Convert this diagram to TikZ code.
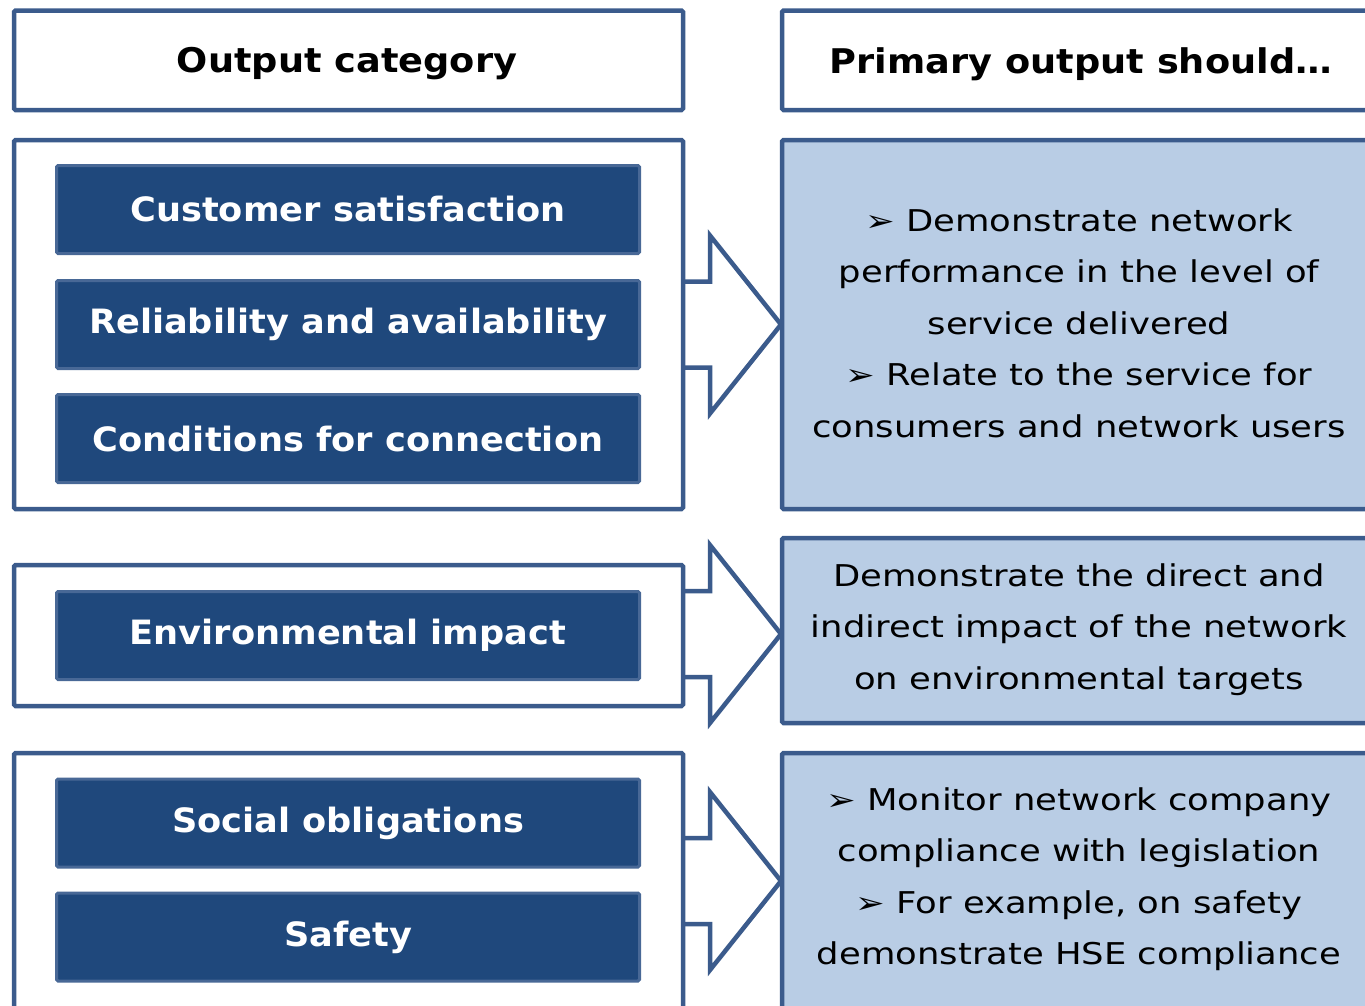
\documentclass[tikz,border=0pt]{standalone}
\usepackage{fontspec}
\setmainfont{DejaVu Sans}
\newfontfamily\wfont[FakeStretch=1.18]{DejaVu Sans}
\newfontfamily\hfont[FakeStretch=1.08]{DejaVu Sans}
\newfontfamily\cfont[FakeStretch=1.05]{DejaVu Sans}
\definecolor{edge}{RGB}{59,91,140}
\definecolor{darkfill}{RGB}{31,72,124}
\definecolor{darkedge}{RGB}{72,104,150}
\definecolor{lightfill}{RGB}{185,205,229}
\begin{document}
\begin{tikzpicture}[x=1pt,y=-1pt,
 frame/.style={draw=edge, line width=4.5pt, rounded corners=1.5pt, fill=white, inner sep=0pt, minimum width=669pt, outer sep=0pt},
 infobox/.style={frame, fill=lightfill, minimum width=598pt},
 catbox/.style={draw=darkedge, line width=3pt, fill=darkfill, rounded corners=1.5pt, minimum width=583pt, minimum height=88pt, inner sep=0pt, text=white, font=\cfont\fontsize{33.5}{36}\selectfont\bfseries},
 headtext/.style={font=\hfont\fontsize{34}{36}\selectfont\bfseries},
 bodytext/.style={font=\wfont\fontsize{30}{51.5}\selectfont, align=center},
 outarrow/.pic={\draw[edge, line width=4.5pt, line join=miter] (0,-43) -- (27,-43) -- (27,-89) -- (98,0) -- (27,89) -- (27,43) -- (0,43);}
]
\fill[white] (0,0) rectangle (1365,1005);
\useasboundingbox (0,0) rectangle (1365,1005);
\clip (0,0) rectangle (1365,1005);

% headers
\node[frame, minimum height=99.5pt] (hl) at (348.5,60.25) {};
\node[headtext] (hlt) at (347,64) {Output category};
\node[frame, fill=white, minimum width=598pt, minimum height=99.5pt] (hr) at (1081,60.25) {};
\node[headtext] (hrt) at (1081,64) {Primary output should\ldots};

% group 1
\node[frame, minimum height=369pt] (g1l) at (348.5,324.5) {};
\node[infobox, minimum height=369pt] (g1r) at (1081,324.5) {};
\node[bodytext] (g1t) at (1079,323) {➢ Demonstrate network\\performance in the level of\\service delivered\\➢ Relate to the service for\\consumers and network users};
\node[catbox] (d1) at (348,209.5) {Customer satisfaction};
\node[catbox] (d2) at (348,324.5) {Reliability and availability};
\node[catbox] (d3) at (348,438.5) {Conditions for connection};
\pic at (g1l.east) {outarrow};

% group 2
\node[frame, minimum height=141pt] (g2l) at (348.5,635.5) {};
\node[infobox, minimum height=185pt] (g2r) at (1081,630.5) {};
\node[bodytext] (g2t) at (1079,629.5) {Demonstrate the direct and\\indirect impact of the network\\on environmental targets};
\node[catbox] (d4) at (348,635.5) {Environmental impact};
\pic at (683,634) {outarrow};

% group 3
\node[frame, minimum height=262pt] (g3l) at (348.5,884) {};
\node[infobox, minimum height=262pt] (g3r) at (1081,884) {};
\node[bodytext] (g3t) at (1079,879) {➢ Monitor network company\\compliance with legislation\\➢ For example, on safety\\demonstrate HSE compliance};
\node[catbox] (d5) at (348,823) {Social obligations};
\node[catbox] (d6) at (348,937) {Safety};
\pic at (683,881) {outarrow};
\end{tikzpicture}
\end{document}
